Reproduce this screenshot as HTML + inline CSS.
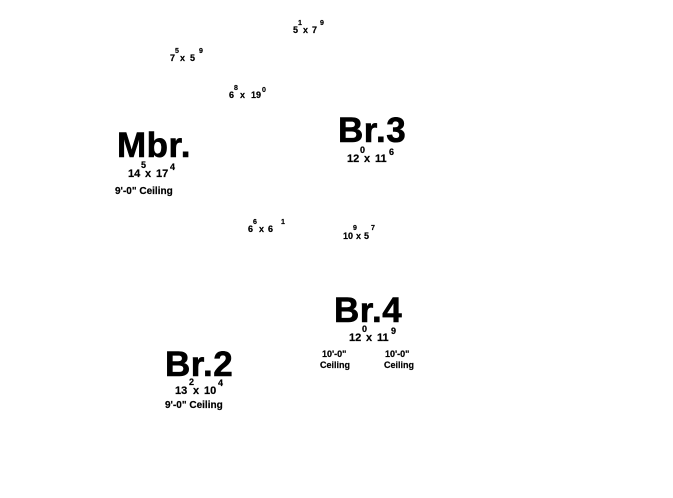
<!DOCTYPE html>
<html><head><meta charset="utf-8"><style>
html,body{margin:0;padding:0;background:#fff;width:673px;height:498px;overflow:hidden}
svg{display:block}
text{font-family:"Liberation Sans",Arial,sans-serif;font-weight:bold;fill:#000;stroke:#000;stroke-width:0.2}
.s{font-size:9px}.u{font-size:7px}.m{font-size:11px}.c{font-size:10px}.c9{font-size:9px}.b{font-size:35px;stroke-width:0.6;letter-spacing:0.5px}
</style></head><body>
<svg width="673" height="498" xmlns="http://www.w3.org/2000/svg">
<text class="s" x="293" y="33">5</text><text class="u" x="298" y="25">1</text><text class="s" x="303" y="33">x</text><text class="s" x="312" y="33">7</text><text class="u" x="320" y="25">9</text>
<text class="s" x="170" y="61">7</text><text class="u" x="175" y="53">5</text><text class="s" x="180" y="61">x</text><text class="s" x="190" y="61">5</text><text class="u" x="199" y="53">9</text>
<text class="s" x="229" y="98">6</text><text class="u" x="234" y="90">8</text><text class="s" x="240" y="98">x</text><text class="s" x="251" y="98">19</text><text class="u" x="262" y="92">0</text>
<text class="b" x="117" y="157">Mbr.</text>
<text class="m" x="128" y="177">14</text><text class="c9" x="141" y="168">5</text><text class="m" x="145" y="177">x</text><text class="m" x="156" y="177">17</text><text class="c9" x="170" y="170">4</text>
<text class="c" x="115" y="194">9'-0" Ceiling</text>
<text class="b" x="338" y="142">Br.3</text>
<text class="m" x="347" y="162">12</text><text class="c9" x="360" y="153">0</text><text class="m" x="364" y="162">x</text><text class="m" x="375" y="162">11</text><text class="c9" x="389" y="155">6</text>
<text class="s" x="248" y="232">6</text><text class="u" x="253" y="224">6</text><text class="s" x="259" y="232">x</text><text class="s" x="268" y="232">6</text><text class="u" x="281" y="224">1</text>
<text class="s" x="343" y="239">10</text><text class="u" x="353" y="230">9</text><text class="s" x="356" y="239">x</text><text class="s" x="364" y="239">5</text><text class="u" x="371" y="230">7</text>
<text class="b" x="334" y="322">Br.4</text>
<text class="m" x="349" y="341">12</text><text class="c9" x="362" y="332">0</text><text class="m" x="366" y="341">x</text><text class="m" x="377" y="341">11</text><text class="c9" x="391" y="334">9</text>
<text class="c9" x="322" y="357">10'-0"</text><text class="c9" x="320" y="368">Ceiling</text>
<text class="c9" x="385" y="357">10'-0"</text><text class="c9" x="384" y="368">Ceiling</text>
<text class="b" x="165" y="376">Br.2</text>
<text class="m" x="175" y="394">13</text><text class="c9" x="189" y="385">2</text><text class="m" x="193" y="394">x</text><text class="m" x="204" y="394">10</text><text class="c9" x="218" y="386">4</text>
<text class="c" x="165" y="408">9'-0" Ceiling</text>
</svg>
</body></html>
